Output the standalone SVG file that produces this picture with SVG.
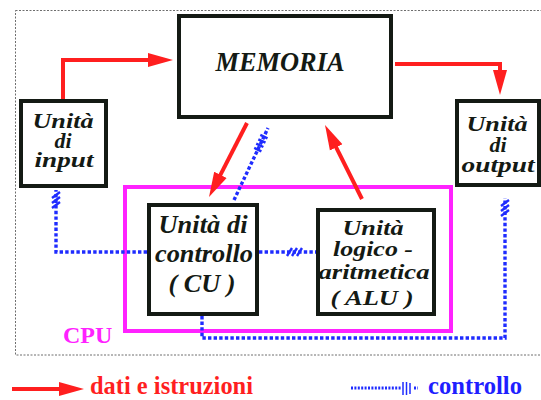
<svg xmlns="http://www.w3.org/2000/svg" width="541" height="400" viewBox="0 0 541 400">
  <defs>
    <marker id="redHead" markerUnits="userSpaceOnUse" markerWidth="30" markerHeight="20" viewBox="0 -10 30 20" refX="2" refY="0" orient="auto">
      <path d="M0,-7 L25,0 L0,7 z" fill="#ff1f1f"/>
    </marker>
    <style>
      .box { fill: #ffffff; stroke: #141a14; stroke-width: 4; }
      .lbl { font-family: "Liberation Serif", "Times New Roman", serif; font-style: italic; font-weight: bold; fill: #141a14; text-anchor: middle; }
      .data { fill: none; stroke: #ff1f1f; stroke-width: 4; marker-end: url(#redHead); }
      .ctrl { fill: none; stroke: #1f2cff; stroke-width: 3.4; stroke-dasharray: 3.4 2.2; }
      .tick { fill: none; stroke: #1f2cff; stroke-width: 2.4; }
      .legend { font-family: "Liberation Serif", "Times New Roman", serif; font-weight: bold; font-size: 25px; }
    </style>
  </defs>

  <rect width="541" height="400" fill="#ffffff"/>

  <!-- dashed outer frame -->
  <rect x="15.5" y="10.5" width="545" height="344.5" fill="none" stroke="#6e6e6e" stroke-width="1" stroke-dasharray="2 1.5"/>

  <!-- CPU boundary -->
  <g id="cpu">
    <rect x="125" y="187" width="326" height="144" fill="none" stroke="#ff22ff" stroke-width="4"/>
    <text x="63" y="343" font-family="Liberation Serif, Times New Roman, serif" font-weight="bold" font-size="24" fill="#ff22ff">CPU</text>
  </g>

  <g id="memoria">
    <rect class="box" x="179" y="16" width="212" height="101"/>
    <text class="lbl" x="280" y="71" font-size="28" textLength="129" lengthAdjust="spacingAndGlyphs">MEMORIA</text>
  </g>

  <g id="input">
    <rect class="box" x="21" y="101" width="85" height="85"/>
    <text class="lbl" font-size="22" x="63" y="128" textLength="61" lengthAdjust="spacingAndGlyphs">Unità</text>
    <text class="lbl" font-size="22" x="63" y="148">di</text>
    <text class="lbl" font-size="22" x="64" y="167" textLength="59" lengthAdjust="spacingAndGlyphs">input</text>
  </g>

  <g id="output">
    <rect class="box" x="457" y="101" width="82" height="84"/>
    <text class="lbl" font-size="22" x="497" y="131" textLength="61" lengthAdjust="spacingAndGlyphs">Unità</text>
    <text class="lbl" font-size="22" x="498" y="152">di</text>
    <text class="lbl" font-size="22" x="498" y="172" textLength="73" lengthAdjust="spacingAndGlyphs">output</text>
  </g>

  <g id="cu">
    <rect class="box" x="149" y="205" width="108" height="109"/>
    <text class="lbl" font-size="26" x="203" y="233" textLength="89" lengthAdjust="spacingAndGlyphs">Unità di</text>
    <text class="lbl" font-size="26" x="204" y="262" textLength="98" lengthAdjust="spacingAndGlyphs">controllo</text>
    <text class="lbl" font-size="26" x="202" y="292" textLength="67" lengthAdjust="spacingAndGlyphs">( CU )</text>
  </g>

  <g id="alu">
    <rect class="box" x="318" y="210" width="116" height="104"/>
    <text class="lbl" font-size="22" x="373" y="235" textLength="61" lengthAdjust="spacingAndGlyphs">Unità</text>
    <text class="lbl" font-size="22" x="373" y="256" textLength="80" lengthAdjust="spacingAndGlyphs">logico -</text>
    <text class="lbl" font-size="22" x="374" y="279" textLength="111" lengthAdjust="spacingAndGlyphs">aritmetica</text>
    <text class="lbl" font-size="22" x="372" y="305" textLength="83" lengthAdjust="spacingAndGlyphs">( ALU )</text>
  </g>

  <g id="connectors">
    <!-- control signals -->
    <path class="ctrl" d="M147,252 H56 V190"/>
    <path class="tick" d="M52,198 l8,-6 M52,203 l8,-6 M52,208 l8,-6"/>

    <path class="ctrl" d="M259,252 H316"/>
    <path class="tick" d="M287,256 l5,-8 M292,256 l5,-8 M297,256 l5,-8"/>

    <path class="ctrl" d="M202,316 V338 H505 V198"/>
    <path class="tick" d="M501,206 l8,-6 M501,211 l8,-6 M501,216 l8,-6"/>

    <path class="ctrl" d="M234,200 L268,128"/>
    <path class="tick" d="M254.2,147.9 l7.2,3.4 M256.2,143.6 l7.2,3.4 M258.3,139.3 l7.2,3.4 M260.3,134.9 l7.2,3.4"/>

    <!-- data and instructions -->
    <path class="data" d="M63,99 V60 H150"/>
    <path class="data" d="M395,64 H500 V72"/>
    <path class="data" d="M247,123 L219.5,176.6"/>
    <path class="data" d="M362,199 L335.3,145.6"/>
  </g>

  <!-- legend -->
  <g id="legend">
    <path class="data" d="M12,389 H61"/>
    <text class="legend" x="90" y="394" fill="#ff1f1f" textLength="163" lengthAdjust="spacingAndGlyphs">dati e istruzioni</text>
    <path d="M351,388 H401 M414,388 H418" fill="none" stroke="#1f2cff" stroke-width="3" stroke-dasharray="2 1.4"/>
    <path d="M403,382 V395 M406.5,382 V395 M410,383 V394" fill="none" stroke="#1f2cff" stroke-width="1.5"/>
    <text class="legend" x="428" y="394" fill="#1f1fff" textLength="94" lengthAdjust="spacingAndGlyphs">controllo</text>
  </g>
</svg>
